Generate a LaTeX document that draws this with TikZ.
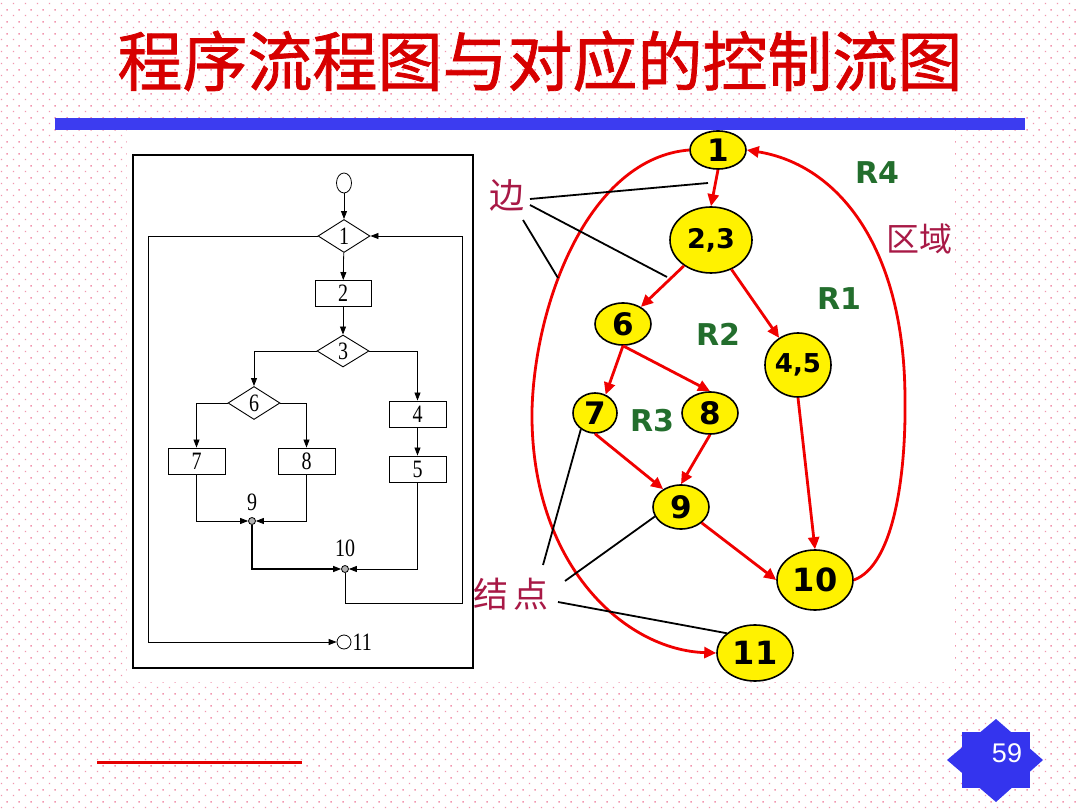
\documentclass[tikz,border=0pt]{standalone}
\usepackage{fontspec}
\setmainfont{Liberation Serif}
\newfontfamily\cjk{Noto Sans CJK SC}
\newfontfamily\cjkt{Noto Sans CJK SC}[FakeBold=1.2]
\newfontfamily\gfont{DejaVu Sans}
\newfontfamily\arialf{Liberation Sans}
\newfontfamily\fcf{Liberation Serif}[FakeStretch=0.8]
\usetikzlibrary{shapes.geometric,arrows.meta,patterns}
\definecolor{dotpink}{RGB}{242,150,175}
\definecolor{barblue}{RGB}{60,60,240}
\definecolor{titlered}{RGB}{215,0,0}
\definecolor{gred}{RGB}{240,0,0}
\definecolor{rgreen}{RGB}{35,110,45}
\definecolor{maroon}{RGB}{168,25,70}
\definecolor{badgeblue}{RGB}{52,52,238}
\pgfdeclarepatternformonly{pinkdots}{\pgfqpoint{0pt}{0pt}}{\pgfqpoint{12pt}{12pt}}{\pgfqpoint{12pt}{12pt}}{%
  \pgfpathrectangle{\pgfqpoint{2pt}{2pt}}{\pgfqpoint{1.5pt}{1.5pt}}%
  \pgfpathrectangle{\pgfqpoint{8pt}{8pt}}{\pgfqpoint{1.5pt}{1.5pt}}%
  \pgfusepath{fill}}
\begin{document}
\begin{tikzpicture}[x=1pt,y=-1pt,
  fbox/.style={draw, line width=0.9pt, minimum width=57pt, minimum height=26pt, inner sep=0pt, font=\fcf\fontsize{25}{25}\selectfont},
  fdia/.style={diamond, draw, line width=0.9pt, minimum width=52pt, minimum height=33pt, inner sep=0pt, font=\fcf\fontsize{25}{25}\selectfont},
  fdot/.style={circle, draw, line width=0.8pt, fill=gray!60, minimum size=7pt, inner sep=0pt},
  ftxt/.style={inner sep=0pt, font=\fcf\fontsize{25}{25}\selectfont},
  farr/.style={line width=0.8pt, -{Triangle[length=8pt,width=6pt]}},
  gnode/.style={ellipse, draw, fill=yellow, line width=1.6pt, inner sep=0pt, font=\gfont\bfseries\fontsize{31}{31}\selectfont},
  rarr/.style={draw=gred, line width=2.8pt, -{Triangle[length=12pt,width=11pt]}},
  rlab/.style={inner sep=0pt, text=rgreen, font=\gfont\bfseries\fontsize{30}{30}\selectfont},
  clab/.style={inner sep=0pt, text=maroon, font=\cjk\fontsize{33}{33}\selectfont},
  ptr/.style={line width=1.8pt, black}
]
\useasboundingbox (0,0) rectangle (1080,810);
\fill[white] (0,0) rectangle (1080,810);
\fill[pattern=pinkdots, pattern color=dotpink] (0,0) rectangle (1080,810);
\fill[white] (127,130) rectangle (955,682);
\fill[barblue] (55,118) rectangle (1025,130);
\node[inner sep=0pt, text=titlered, font=\cjkt\fontsize{65}{70}\selectfont] (title) at (540,61) {程序流程图与对应的控制流图};

% ---------- left flowchart ----------
\draw[line width=1.8pt] (133,155) rectangle (473,668);
\node[ellipse, draw, line width=0.8pt, minimum width=15pt, minimum height=20pt, inner sep=0pt] (s) at (344,183) {};
\node[fdia] (d1) at (344,236) {1};
\node[fbox, minimum width=56pt] (b2) at (343,293.5) {2};
\node[fdia, minimum height=32pt] (d3) at (343,351) {3};
\node[fdia] (d6) at (254,403) {6};
\node[fbox] (b4) at (417.5,414) {4};
\node[fbox] (b5) at (417.5,469) {5};
\node[fbox] (b7) at (196.5,461) {7};
\node[fbox] (b8) at (306.5,461) {8};
\node[fdot] (n9) at (252,521) {};
\node[ftxt] (l9) at (252,502) {9};
\node[fdot] (n10) at (345,569) {};
\node[ftxt] (l10) at (345,548) {10};
\node[circle, draw, line width=0.8pt, minimum size=14pt, inner sep=0pt] (n11) at (344,642) {};
\node[ftxt, anchor=west] (l11) at ([xshift=1pt]n11.east) {11};
\coordinate (cR) at (462,603);
\coordinate (cL) at (148,642);

\draw[farr] (s) -- (d1);
\draw[farr] (d1) -- (b2);
\draw[farr] (b2) -- (d3);
\draw[farr] (d3.west) -| (d6.north);
\draw[farr] (d3.east) -| (b4.north);
\draw[farr] (d6.west) -| (b7.north);
\draw[farr] (d6.east) -| (b8.north);
\draw[farr] (b4) -- (b5);
\draw[farr] (b7.south) |- (n9.west);
\draw[farr] (b8.south) |- (n9.east);
\draw[farr, line width=1.2pt] (n9.south) |- (n10.west);
\draw[farr] (b5.south) |- (n10.east);
\draw[farr] (n10.south) |- (cR) |- (d1.east);
\draw[farr] (d1.west) -| (cL) -- (n11.west);

% ---------- right control flow graph ----------
\node[gnode, minimum width=56pt, minimum height=38pt] (g1) at (718,150) {1};
\node[gnode, minimum width=82pt, minimum height=66pt, font=\gfont\bfseries\fontsize{27}{27}\selectfont] (g23) at (711,240) {2,3};
\node[gnode, minimum width=56pt, minimum height=42pt] (g6) at (623,324) {6};
\node[gnode, minimum width=66pt, minimum height=64pt, font=\gfont\bfseries\fontsize{26}{26}\selectfont] (g45) at (798,365) {4,5};
\node[gnode, minimum width=44pt, minimum height=40pt] (g7) at (595,413) {7};
\node[gnode, minimum width=56pt, minimum height=42pt] (g8) at (710,413) {8};
\node[gnode, minimum width=56pt, minimum height=44pt] (g9) at (681,507) {9};
\node[gnode, minimum width=76pt, minimum height=60pt, font=\gfont\bfseries\fontsize{32}{32}\selectfont] (g10) at (815,580) {10};
\node[gnode, minimum width=76pt, minimum height=56pt, font=\gfont\bfseries\fontsize{32}{32}\selectfont] (g11) at (755,653) {11};

\draw[rarr] (g1.south) -- (g23.north);
\draw[rarr] (g23) -- (g6);
\draw[rarr] (g23) -- (g45);
\draw[rarr] (g6.south) -- (g7.60);
\draw[rarr] (g6.south) -- (g8.north);
\draw[rarr] (g7.south) -- (g9.135);
\draw[rarr] (g8.south) -- (g9.north);
\draw[rarr] (g45.south) -- (g10.north);
\draw[rarr] (g9) -- (g10.west);
\coordinate (kR) at (905,400);
\coordinate (kL) at (532,410);
\draw[rarr] (g10.east) .. controls (895,565) and (906,470) .. (kR) .. controls (905,250) and (840,165) .. (g1.east);
\draw[rarr] (g1.west) .. controls (590,158) and (535,300) .. (kL) .. controls (530,565) and (625,650) .. (g11.west);

% labels
\node[rlab] (R4) at (877,173) {R4};
\node[rlab] (R1) at (839,299) {R1};
\node[rlab] (R2) at (718,334) {R2};
\node[rlab] (R3) at (652,421) {R3};
\node[clab] (quyu) at (919,239) {区域};
\node[clab, font=\cjk\fontsize{35}{35}\selectfont] (bian) at (507,195) {边};
\node[clab, font=\cjk\fontsize{35}{35}\selectfont] (jd) at (511,594) {结\hspace{5pt}点};

% pointer lines
\coordinate (e1) at (708,183);
\coordinate (e2) at (667,277);
\coordinate (e3) at (558,278);
\coordinate (bs1) at (530,199);
\coordinate (bs2) at (530,205);
\coordinate (bs3) at (523,220);
\draw[ptr] (bs1) -- (e1);
\draw[ptr] (bs2) -- (e2);
\draw[ptr] (bs3) -- (e3);
\coordinate (js1) at (543,565);
\coordinate (js2) at (565,581);
\coordinate (js3) at (558,602);
\draw[ptr] (js1) -- (g7.-131);
\draw[ptr] (js2) -- (g9.-160);
\draw[ptr] (js3) -- (g11.145);

% footer
\draw[line width=3pt, red!90!black] (97,762) -- (302,762);
\fill[badgeblue] (962,732) rectangle (1030,788);
\fill[badgeblue] (996,719) -- (1043,760) -- (996,802) -- (947,760) -- cycle;
\node[text=white, inner sep=0pt, font=\arialf\fontsize{27}{27}\selectfont] (pg) at (1007,753) {59};
\end{tikzpicture}
\end{document}
